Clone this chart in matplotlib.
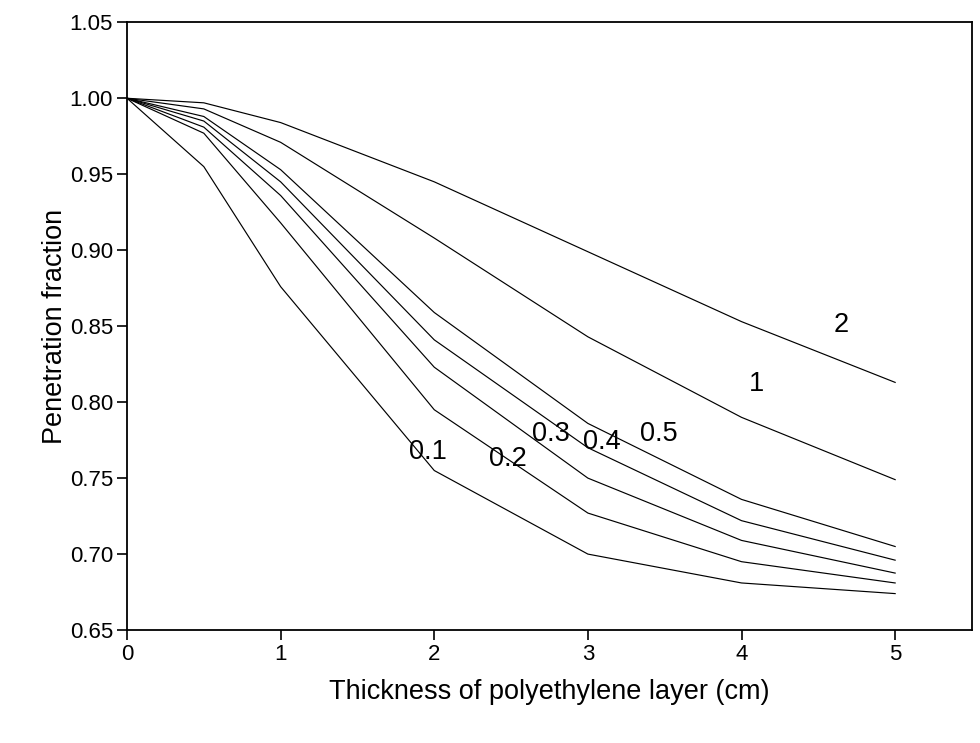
import numpy as np
import matplotlib.pyplot as plt

plt.rcParams['font.family'] = ['Liberation Sans', 'DejaVu Sans']

# thickness of polyethylene layer (cm)
thickness = [0, 0.5, 1, 2, 3, 4, 5]

# penetration fraction curves, one per parameter value
curve_labels = ["0.1", "0.2", "0.3", "0.4", "0.5", "1", "2"]
pen_01 = [1.0, 0.955, 0.876, 0.755, 0.700, 0.681, 0.674]
pen_02 = [1.0, 0.977, 0.918, 0.795, 0.727, 0.695, 0.681]
pen_03 = [1.0, 0.981, 0.936, 0.823, 0.750, 0.709, 0.6875]
pen_04 = [1.0, 0.985, 0.945, 0.841, 0.770, 0.722, 0.696]
pen_05 = [1.0, 0.988, 0.953, 0.859, 0.786, 0.736, 0.705]
pen_1 = [1.0, 0.993, 0.971, 0.908, 0.843, 0.790, 0.749]
pen_2 = [1.0, 0.997, 0.984, 0.945, 0.899, 0.853, 0.813]

# where the curve labels sit (data coords)
label_x = [1.96, 2.48, 2.76, 3.09, 3.46, 4.10, 4.65]
label_y = [0.767, 0.7625, 0.779, 0.774, 0.779, 0.812, 0.851]

curves = [pen_01, pen_02, pen_03, pen_04, pen_05, pen_1, pen_2]

fig = plt.figure(figsize=(9.8, 7.43), dpi=100)
ax = fig.add_axes([0.1296, 0.152, 0.8622, 0.818])

for vals in curves:
    ax.plot(thickness, vals, color="black", linewidth=0.85)

for txt, lx, ly in zip(curve_labels, label_x, label_y):
    ax.text(lx, ly, txt, fontsize=19.5, ha="center", va="center")

ax.set_xlim(0, 5.5)
ax.set_ylim(0.65, 1.05)
ax.set_xticks([0, 1, 2, 3, 4, 5])
ax.set_yticks(np.arange(0.65, 1.051, 0.05))
ax.set_yticklabels([f"{v:.2f}" for v in np.arange(0.65, 1.051, 0.05)])
ax.tick_params(direction="out", length=7, width=1.2, labelsize=16, pad=3)
for s in ax.spines.values():
    s.set_linewidth(1.3)

ax.set_xlabel("Thickness of polyethylene layer (cm)", fontsize=19.5, labelpad=10)
ax.set_ylabel("Penetration fraction", fontsize=19.5, labelpad=1)

fig.savefig("out.png", dpi=100)
